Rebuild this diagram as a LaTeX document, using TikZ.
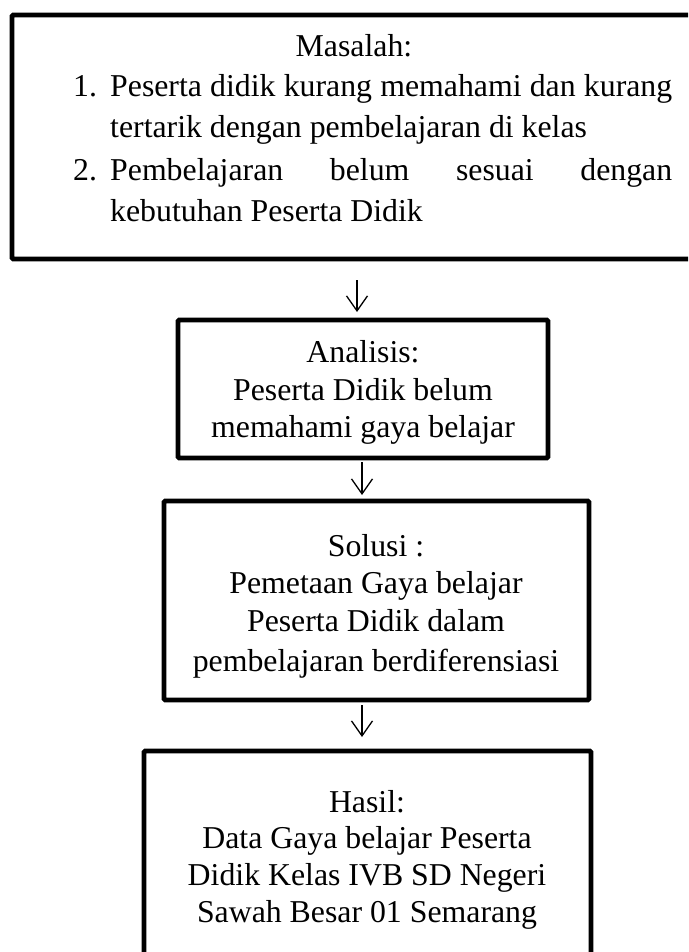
\documentclass[tikz,border=0pt]{standalone}
\usepackage{fontspec}
\setmainfont{Liberation Serif}
\usetikzlibrary{arrows.meta}
\tikzset{
  box/.style={draw=black, line width=4.6pt, rounded corners=1.2pt, inner sep=0pt, fill=none},
  txt/.style={anchor=base, inner sep=0pt, font=\fontsize{31.8}{38}\selectfont},
  txtw/.style={anchor=base west, inner sep=0pt, font=\fontsize{31.8}{38}\selectfont},
  flow/.style={line width=1.3pt, -{Straight Barb[length=15pt,width=21pt,line width=1.3pt]}}
}
\begin{document}
\begin{tikzpicture}[x=1pt,y=-1pt]
\useasboundingbox (0,0) rectangle (688,952);
\clip (0,0) rectangle (688,952);
\fill[white] (0,0) rectangle (688,952);
% boxes
\node[box, minimum width=688pt, minimum height=244pt] (masalah) at (356,137) {};
\node[box, minimum width=370pt, minimum height=138pt] (analisis) at (363,389) {};
\node[box, minimum width=425pt, minimum height=199pt] (solusi) at (376.5,600.5) {};
\node[box, minimum width=447pt, minimum height=229pt] (hasil) at (367.5,865.5) {};
% masalah text
\node[txt] (m0) at (354,57) {Masalah:};
\node[txtw] (m1n) at (73,96.5) {1.};
\node[txtw] (m1) at (110,96.5) {\makebox[562pt][s]{Peserta didik kurang memahami dan kurang}};
\node[txtw] (m2) at (110,138) {tertarik dengan pembelajaran di kelas};
\node[txtw] (m3n) at (73,180) {2.};
\node[txtw] (m3) at (110,180) {\makebox[562pt][s]{Pembelajaran belum sesuai dengan}};
\node[txtw] (m4) at (110,221) {kebutuhan Peserta Didik};
% analisis text
\node[txt] (a0) at (363,362) {Analisis:};
\node[txt] (a1) at (363,400) {Peserta Didik belum};
\node[txt] (a2) at (363,437) {memahami gaya belajar};
% solusi text
\node[txt] (s0) at (376,556) {Solusi :};
\node[txt] (s1) at (376,593) {Pemetaan Gaya belajar};
\node[txt] (s2) at (376,631) {Peserta Didik dalam};
\node[txt] (s3) at (376,671) {pembelajaran berdiferensiasi};
% hasil text
\node[txt] (h0) at (367,812) {Hasil:};
\node[txt] (h1) at (367,848) {Data Gaya belajar Peserta};
\node[txt] (h2) at (367,885) {Didik Kelas IVB SD Negeri};
\node[txt] (h3) at (367,922) {Sawah Besar 01 Semarang};
% arrows
\coordinate (p1a) at (357,280);
\coordinate (p1b) at (357,312);
\coordinate (p2a) at (362,462);
\coordinate (p2b) at (362,495);
\coordinate (p3a) at (362,705);
\coordinate (p3b) at (362,737);
\draw[flow] (p1a) -- (p1b);
\draw[flow] (p2a) -- (p2b);
\draw[flow] (p3a) -- (p3b);
\end{tikzpicture}
\end{document}
